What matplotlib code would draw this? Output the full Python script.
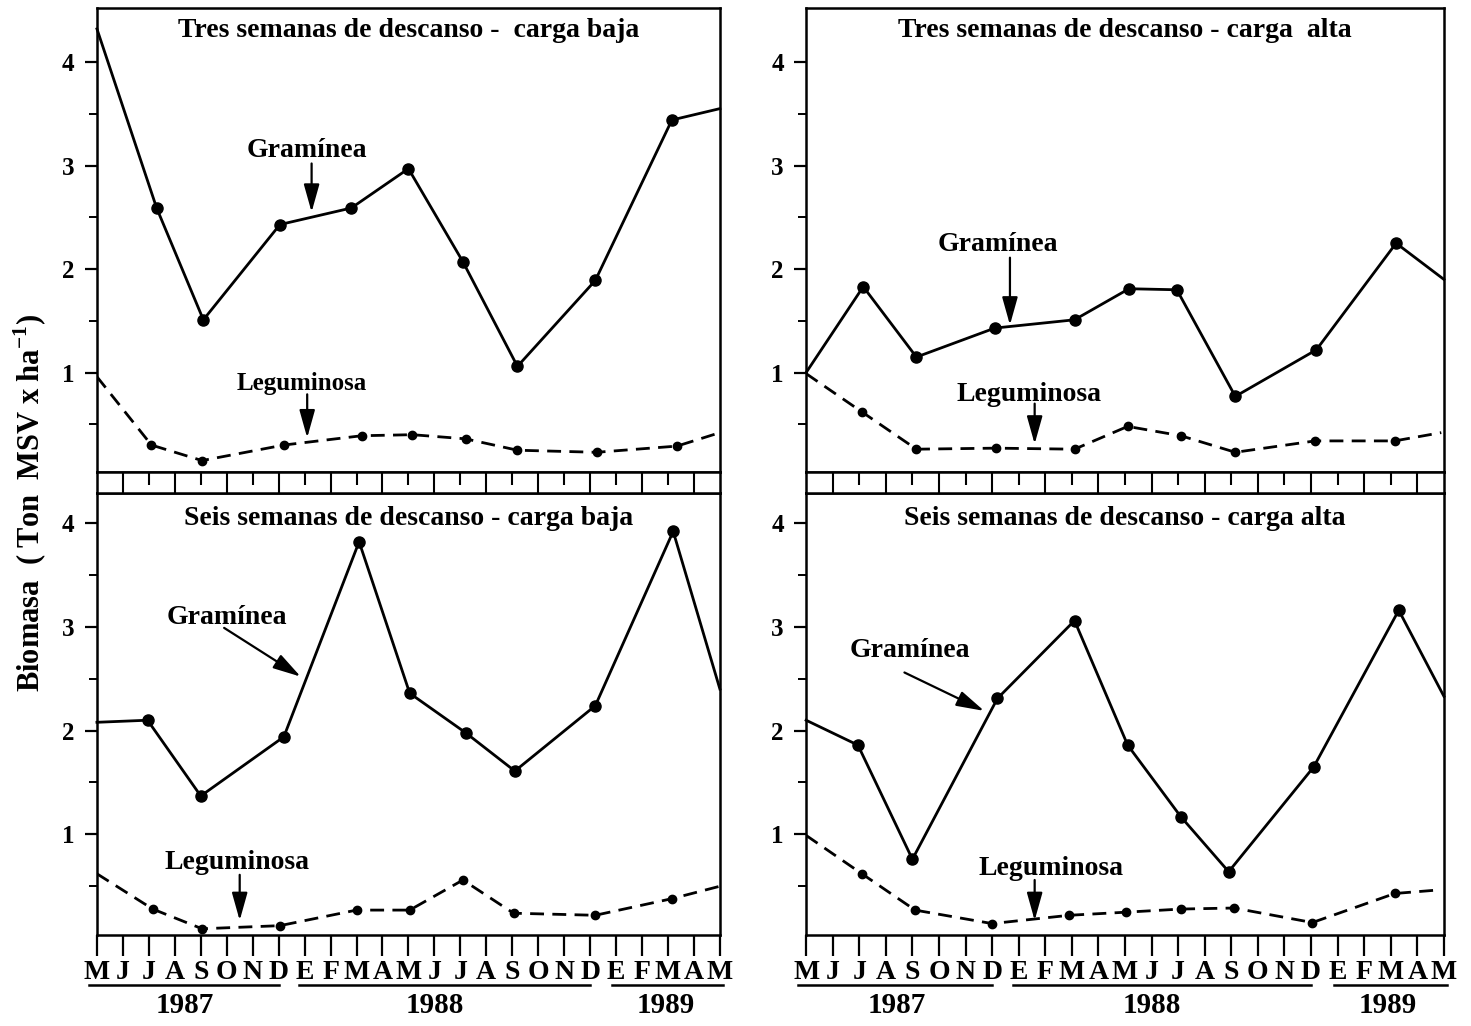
import matplotlib
matplotlib.use("Agg")
import matplotlib.pyplot as plt
import numpy as np

plt.rcParams['font.family'] = ['Liberation Serif', 'DejaVu Serif']
plt.rcParams['font.weight'] = 'bold'
plt.rcParams['mathtext.fontset'] = 'custom'
plt.rcParams['mathtext.rm'] = 'Liberation Serif:bold'
plt.rcParams['mathtext.bf'] = 'Liberation Serif:bold'

# meses de mayo 1987 a mayo 1989
months = ['M', 'J', 'J', 'A', 'S', 'O', 'N', 'D', 'E', 'F', 'M', 'A', 'M',
          'J', 'J', 'A', 'S', 'O', 'N', 'D', 'E', 'F', 'M', 'A', 'M']
years = ['1987', '1988', '1989']
year_center = [3.4, 13.0, 21.9]
year_span = [(-0.3, 7.0), (7.8, 19.0), (19.85, 24.1)]

# Tres semanas - carga baja
tl_x_gram = [0, 2.3, 4.1, 7.05, 9.8, 12.0, 14.1, 16.2, 19.2, 22.15, 24]
tl_gram = [4.32, 2.59, 1.51, 2.43, 2.59, 2.97, 2.07, 1.06, 1.89, 3.44, 3.55]
tl_x_leg = [0, 2.1, 4.05, 7.2, 10.2, 12.15, 14.2, 16.2, 19.25, 22.35, 24]
tl_leg = [0.96, 0.30, 0.15, 0.30, 0.39, 0.40, 0.36, 0.25, 0.23, 0.29, 0.42]

# Tres semanas - carga alta
tr_x_gram = [0, 2.15, 4.15, 7.1, 10.1, 12.15, 13.95, 16.15, 19.2, 22.2, 24]
tr_gram = [1.0, 1.83, 1.15, 1.43, 1.51, 1.81, 1.80, 0.77, 1.22, 2.25, 1.90]
tr_x_leg = [0, 2.1, 4.15, 7.15, 10.1, 12.1, 14.1, 16.15, 19.15, 22.15, 23.9]
tr_leg = [0.99, 0.62, 0.26, 0.27, 0.26, 0.48, 0.39, 0.23, 0.34, 0.34, 0.42]

# Seis semanas - carga baja
bl_x_gram = [0, 1.95, 4.0, 7.2, 10.1, 12.05, 14.2, 16.1, 19.2, 22.2, 24]
bl_gram = [2.08, 2.10, 1.37, 1.94, 3.82, 2.36, 1.98, 1.61, 2.24, 3.92, 2.40]
bl_x_leg = [0, 2.15, 4.05, 7.05, 10.0, 12.05, 14.1, 16.05, 19.2, 22.15, 24]
bl_leg = [0.62, 0.28, 0.09, 0.12, 0.27, 0.27, 0.56, 0.24, 0.22, 0.38, 0.50]

# Seis semanas - carga alta
br_x_gram = [0, 1.95, 4.0, 7.2, 10.1, 12.1, 14.1, 15.9, 19.1, 22.3, 24]
br_gram = [2.10, 1.86, 0.76, 2.31, 3.06, 1.86, 1.17, 0.64, 1.65, 3.16, 2.33]
br_x_leg = [0, 2.1, 4.1, 7.0, 9.9, 12.05, 14.1, 16.1, 19.05, 22.15, 23.6]
br_leg = [0.99, 0.62, 0.27, 0.14, 0.22, 0.25, 0.28, 0.29, 0.15, 0.43, 0.46]

titles = ['Tres semanas de descanso -  carga baja',
          'Tres semanas de descanso - carga  alta',
          'Seis semanas de descanso - carga baja',
          'Seis semanas de descanso - carga alta']

fig = plt.figure(figsize=(14.71, 10.26), dpi=100)

cols = [(0.0659, 0.4235), (0.548, 0.4336)]
top_box = (0.540, 0.452)
bot_box = (0.0887, 0.4308)
strip_box = (0.5195, 0.0205)


def style_axis(ax, ylim):
    ax.set_xlim(0, 24)
    ax.set_ylim(*ylim)
    for s in ax.spines.values():
        s.set_linewidth(1.8)
    ax.set_yticks([1, 2, 3, 4])
    ax.set_yticks([0.5, 1.5, 2.5, 3.5], minor=True)
    ax.tick_params(axis='y', which='major', direction='out', length=9, width=1.6,
                   labelsize=18, pad=7)
    ax.tick_params(axis='y', which='minor', direction='out', length=6, width=1.4)


def draw_series(ax, xg, yg, xl, yl):
    ax.plot(xg, yg, color='black', lw=2.0, marker='o', ms=8,
            markevery=slice(1, -1), clip_on=False, zorder=3)
    ax.plot(xl, yl, color='black', lw=2.0, ls=(0, (5, 3)), marker='o', ms=6,
            markevery=slice(1, -1), zorder=3)


def label_arrow(ax, text, txy, start, tip, size=20):
    ax.text(txy[0], txy[1], text, ha='center', va='center', fontsize=size,
            fontweight='bold')
    ax.annotate('', xy=tip, xytext=start,
                arrowprops=dict(arrowstyle='-|>,head_length=1.0,head_width=0.28',
                                color='black', lw=1.6, mutation_scale=17,
                                shrinkA=0, shrinkB=0))


axes = {}
for c, (x0, w) in enumerate(cols):
    at = fig.add_axes([x0, top_box[0], w, top_box[1]])
    ab = fig.add_axes([x0, bot_box[0], w, bot_box[1]])
    st = fig.add_axes([x0, strip_box[0], w, strip_box[1]])
    style_axis(at, (0.04, 4.52))
    style_axis(ab, (0.03, 4.29))
    at.set_xticks([])
    ab.set_xticks(range(len(months)))
    ab.set_xticklabels(months)
    ab.tick_params(axis='x', direction='out', length=15, width=1.6,
                   labelsize=20, pad=3)
    # franja entre paneles
    st.set_xlim(0, 24)
    st.set_ylim(0, 1)
    st.set_xticks([])
    st.set_yticks([])
    for s in st.spines.values():
        s.set_linewidth(1.8)
    st.vlines(np.arange(1, 24, 2), 0, 1, color='black', lw=1.5)
    st.vlines(np.arange(2, 24, 2), 0.4, 1, color='black', lw=1.5)
    # años bajo el eje x
    for yr, xc, (a, b) in zip(years, year_center, year_span):
        ab.plot([a, b], [-0.113, -0.113], color='black', lw=1.8,
                transform=ab.get_xaxis_transform(), clip_on=False)
        ab.text(xc, -0.16, yr, ha='center', va='center', fontsize=21,
                fontweight='bold', transform=ab.get_xaxis_transform())
    axes[c] = (at, ab)

tl, bl = axes[0]
tr, br = axes[1]

draw_series(tl, tl_x_gram, tl_gram, tl_x_leg, tl_leg)
draw_series(tr, tr_x_gram, tr_gram, tr_x_leg, tr_leg)
draw_series(bl, bl_x_gram, bl_gram, bl_x_leg, bl_leg)
draw_series(br, br_x_gram, br_gram, br_x_leg, br_leg)

for ax, t, yy in [(tl, titles[0], 0.953), (tr, titles[1], 0.953),
                  (bl, titles[2], 0.943), (br, titles[3], 0.943)]:
    ax.text(0.5, yy, t, transform=ax.transAxes, ha='center', va='center',
            fontsize=20, fontweight='bold')

label_arrow(tl, 'Gramínea', (8.1, 3.15), (8.27, 3.02), (8.27, 2.55))
label_arrow(tl, 'Leguminosa', (7.9, 0.89), (8.1, 0.79), (8.1, 0.37), size=18)
label_arrow(tr, 'Gramínea', (7.2, 2.24), (7.67, 2.11), (7.67, 1.46))
label_arrow(tr, 'Leguminosa', (8.4, 0.79), (8.6, 0.70), (8.6, 0.31))
label_arrow(bl, 'Gramínea', (5.0, 3.09), (4.9, 2.99), (7.85, 2.52))
label_arrow(bl, 'Leguminosa', (5.4, 0.73), (5.5, 0.61), (5.5, 0.17))
label_arrow(br, 'Gramínea', (3.9, 2.77), (3.7, 2.56), (6.7, 2.19))
label_arrow(br, 'Leguminosa', (9.2, 0.67), (8.6, 0.56), (8.6, 0.17))

fig.text(0.021, 0.51, r'Biomasa  ( Ton  MSV x ha$^{-1}$)', rotation=90,
         ha='center', va='center', fontsize=22, fontweight='bold')

fig.savefig('out.png', dpi=100)
